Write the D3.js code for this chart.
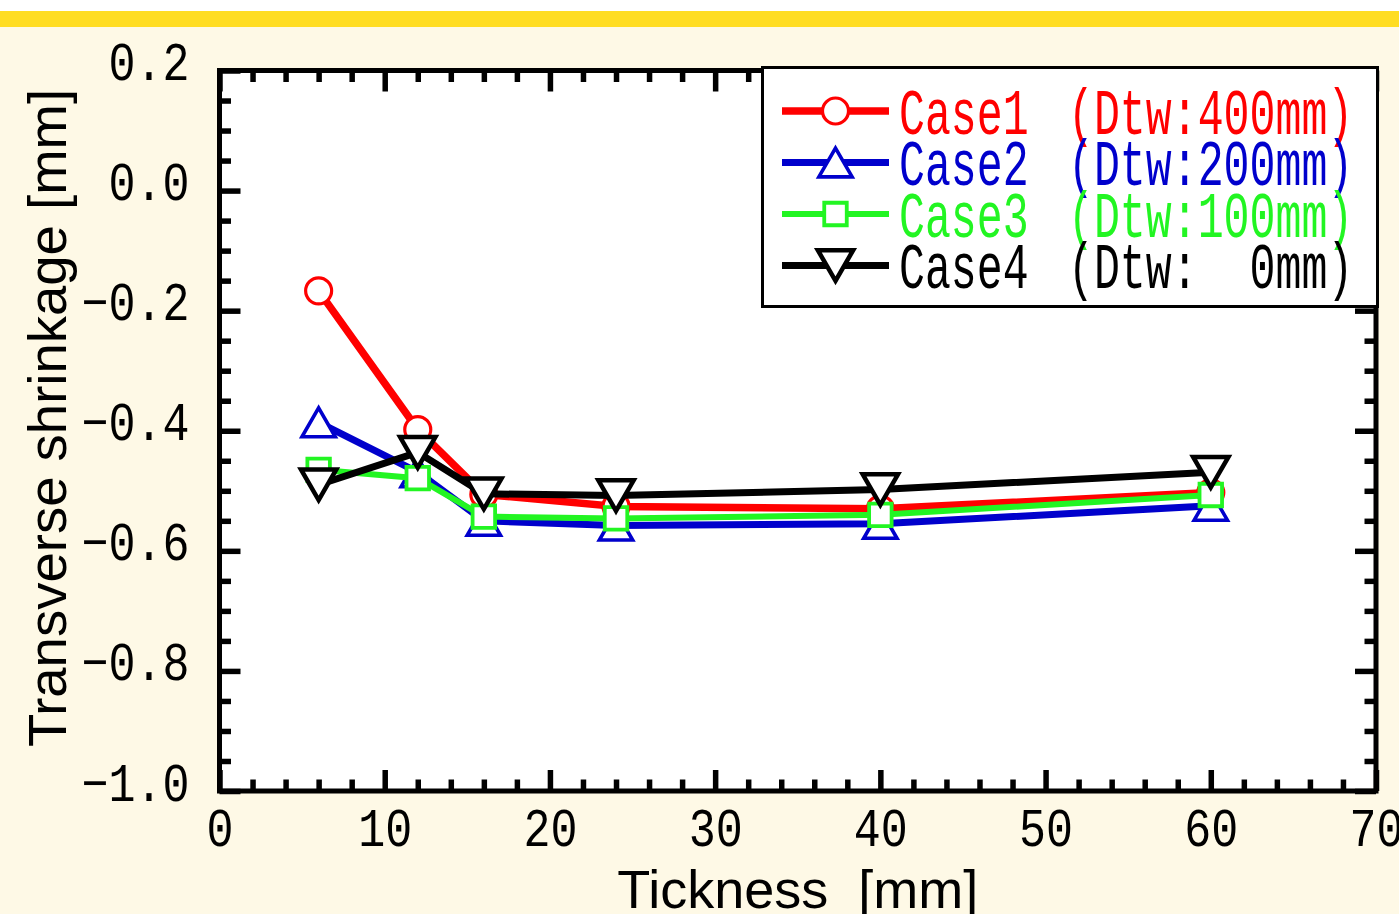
<!DOCTYPE html>
<html>
<head>
<meta charset="utf-8">
<script src="https://cdn.jsdelivr.net/npm/d3@7"></script>
<style>
  html, body { margin: 0; padding: 0; background: #FEF9E6; }
  svg { display: block; }
</style>
</head>
<body>
<svg id="chart" width="1399" height="914"></svg>
<script>
// ---------------- data ----------------
const thickness = [6, 12, 16, 24, 40, 60];
const case1 = [-0.167, -0.398, -0.506, -0.526, -0.530, -0.503];
const case2 = [-0.386, -0.469, -0.550, -0.558, -0.555, -0.525];
const case3 = [-0.465, -0.479, -0.543, -0.546, -0.540, -0.507];
const case4 = [-0.490, -0.436, -0.505, -0.508, -0.498, -0.469];
const caseNames = ["Case1", "Case2", "Case3", "Case4"];
const caseDtw = ["(Dtw:400mm)", "(Dtw:200mm)", "(Dtw:100mm)", "(Dtw:  0mm)"];
const xTicks = [0, 10, 20, 30, 40, 50, 60, 70];
const yTicks = [0.2, 0.0, -0.2, -0.4, -0.6, -0.8, -1.0];
const xTitle = "Tickness  [mm]";
const yTitle = "Transverse shrinkage [mm]";

// ---------------- setup ----------------
const W = 1399, H = 914;
const svg = d3.select("#chart");
const M = { left: 219.5, right: 1376, top: 70.5, bottom: 791 };
const x = d3.scaleLinear().domain([0, 70]).range([M.left, M.right]);
const y = d3.scaleLinear().domain([-1.0, 0.2]).range([M.bottom, M.top]);

// background
svg.append("rect").attr("x", 0).attr("y", 0).attr("width", W).attr("height", H).attr("fill", "#FEF9E6");
svg.append("rect").attr("x", 0).attr("y", 0).attr("width", W).attr("height", 11).attr("fill", "#FFFFFF");
svg.append("rect").attr("x", 0).attr("y", 11).attr("width", W).attr("height", 16).attr("fill", "#FFDD22");

// plot area
svg.append("rect").attr("x", M.left).attr("y", M.top)
  .attr("width", M.right - M.left).attr("height", M.bottom - M.top).attr("fill", "#FFFFFF");

// ---------------- axes ----------------
const xMinor = d3.range(0, 70.001, 2).filter(v => v % 10 !== 0);
const yMinor = d3.range(-1.0, 0.2001, 0.05).map(v => +v.toFixed(2))
  .filter(v => Math.abs(v * 5 - Math.round(v * 5)) > 1e-6);

const MAJ = 21, MIN = 11.5, TW = 5.5;
const monoFont = "'Liberation Mono', 'DejaVu Sans Mono', monospace";
const charW = 27;

function styleAxis(g) {
  g.select(".domain").remove();
  g.selectAll(".tick line").attr("stroke", "#000").attr("stroke-width", TW);
}

// bottom
const gxb = svg.append("g").attr("transform", `translate(0,${M.bottom})`)
  .call(d3.axisBottom(x).tickValues(xTicks).tickSize(-MAJ).tickFormat(d3.format("d")));
styleAxis(gxb);
gxb.selectAll(".tick text")
  .attr("y", 55).attr("dy", 0)
  .attr("font-family", monoFont).attr("font-size", 53).attr("fill", "#000")
  .attr("textLength", function () { return this.textContent.length * charW; })
  .attr("lengthAdjust", "spacingAndGlyphs");
svg.append("g").attr("transform", `translate(0,${M.bottom})`)
  .call(d3.axisBottom(x).tickValues(xMinor).tickSize(-MIN).tickFormat(""))
  .call(styleAxis);

// top
svg.append("g").attr("transform", `translate(0,${M.top})`)
  .call(d3.axisTop(x).tickValues(xTicks).tickSize(-MAJ).tickFormat("")).call(styleAxis);
svg.append("g").attr("transform", `translate(0,${M.top})`)
  .call(d3.axisTop(x).tickValues(xMinor).tickSize(-MIN).tickFormat("")).call(styleAxis);

// left
const gyl = svg.append("g").attr("transform", `translate(${M.left},0)`)
  .call(d3.axisLeft(y).tickValues(yTicks).tickSize(-MAJ).tickPadding(30).tickFormat(d3.format(".1f")));
styleAxis(gyl);
gyl.selectAll(".tick text")
  .attr("dy", 9)
  .attr("font-family", monoFont).attr("font-size", 53).attr("fill", "#000")
  .attr("textLength", function () { return this.textContent.length * charW; })
  .attr("lengthAdjust", "spacingAndGlyphs");
svg.append("g").attr("transform", `translate(${M.left},0)`)
  .call(d3.axisLeft(y).tickValues(yMinor).tickSize(-MIN).tickFormat("")).call(styleAxis);

// right
svg.append("g").attr("transform", `translate(${M.right},0)`)
  .call(d3.axisRight(y).tickValues(yTicks).tickSize(-MAJ).tickFormat("")).call(styleAxis);
svg.append("g").attr("transform", `translate(${M.right},0)`)
  .call(d3.axisRight(y).tickValues(yMinor).tickSize(-MIN).tickFormat("")).call(styleAxis);

// frame
svg.append("rect").attr("x", M.left).attr("y", M.top)
  .attr("width", M.right - M.left).attr("height", M.bottom - M.top)
  .attr("fill", "none").attr("stroke", "#000").attr("stroke-width", 5);

// ---------------- markers ----------------
// bbox-centered triangles
const triUp = {
  draw(ctx, size) {
    const h = Math.sqrt(size * Math.sqrt(3));
    const w = 2 * h / Math.sqrt(3);
    ctx.moveTo(0, -h / 2); ctx.lineTo(w / 2, h / 2); ctx.lineTo(-w / 2, h / 2); ctx.closePath();
  }
};
const triDown = {
  draw(ctx, size) {
    const h = Math.sqrt(size * Math.sqrt(3));
    const w = 2 * h / Math.sqrt(3);
    ctx.moveTo(0, h / 2); ctx.lineTo(w / 2, -h / 2); ctx.lineTo(-w / 2, -h / 2); ctx.closePath();
  }
};

const series = [
  { values: case1, color: "#FF0000", lw: 7.5, type: d3.symbolCircle, size: Math.PI * 13 * 13, sw: 3.2 },
  { values: case2, color: "#0000CC", lw: 7, type: triUp, size: 480, sw: 3.6 },
  { values: case3, color: "#22F522", lw: 6, type: d3.symbolSquare, size: 22.5 * 22.5, sw: 3.8 },
  { values: case4, color: "#000000", lw: 7, type: triDown, size: 540, sw: 4.5 }
];

const line = d3.line().x(d => x(d[0])).y(d => y(d[1]));

series.forEach(s => {
  const pts = thickness.map((t, i) => [t, s.values[i]]);
  const g = svg.append("g");
  g.append("path").datum(pts).attr("d", line)
    .attr("fill", "none").attr("stroke", s.color).attr("stroke-width", s.lw)
    .attr("stroke-linejoin", "round");
  g.selectAll("path.mk").data(pts).join("path").attr("class", "mk")
    .attr("d", d3.symbol().type(s.type).size(s.size))
    .attr("transform", d => `translate(${x(d[0])},${y(d[1])})`)
    .attr("fill", "#FFFFFF").attr("stroke", s.color).attr("stroke-width", s.sw);
});

// ---------------- legend ----------------
const lg = svg.append("g");
lg.append("rect").attr("x", 762.5).attr("y", 67.5).attr("width", 615).attr("height", 239)
  .attr("fill", "#FFFFFF").attr("stroke", "#000").attr("stroke-width", 3);
const SX = 0.665;
series.forEach((s, i) => {
  const cy = 111 + i * 51.5;
  lg.append("line").attr("x1", 782).attr("x2", 889).attr("y1", cy).attr("y2", cy)
    .attr("stroke", s.color).attr("stroke-width", s.lw);
  lg.append("path").attr("d", d3.symbol().type(s.type).size(s.size))
    .attr("transform", `translate(835.5,${cy})`)
    .attr("fill", "#FFFFFF").attr("stroke", s.color).attr("stroke-width", s.sw);
  lg.append("text").attr("transform", `translate(899,${cy + 22.5}) scale(${SX},1)`)
    .attr("font-family", monoFont).attr("font-size", 65).attr("fill", s.color)
    .text(caseNames[i]);
  lg.append("text").attr("transform", `translate(1068,${cy + 22.5}) scale(${SX},1)`)
    .attr("xml:space", "preserve")
    .attr("font-family", monoFont).attr("font-size", 65).attr("fill", s.color)
    .text(caseDtw[i]);
});

// ---------------- titles ----------------
svg.append("text").attr("x", (M.left + M.right) / 2).attr("y", 908)
  .attr("text-anchor", "middle").attr("xml:space", "preserve")
  .attr("font-family", "'Liberation Sans', Arial, sans-serif").attr("font-size", 54).attr("fill", "#000")
  .text(xTitle);
svg.append("text")
  .attr("transform", `translate(66,${418}) rotate(-90)`)
  .attr("text-anchor", "middle")
  .attr("font-family", "'Liberation Sans', Arial, sans-serif").attr("font-size", 54.5).attr("fill", "#000")
  .text(yTitle);
</script>
</body>
</html>
